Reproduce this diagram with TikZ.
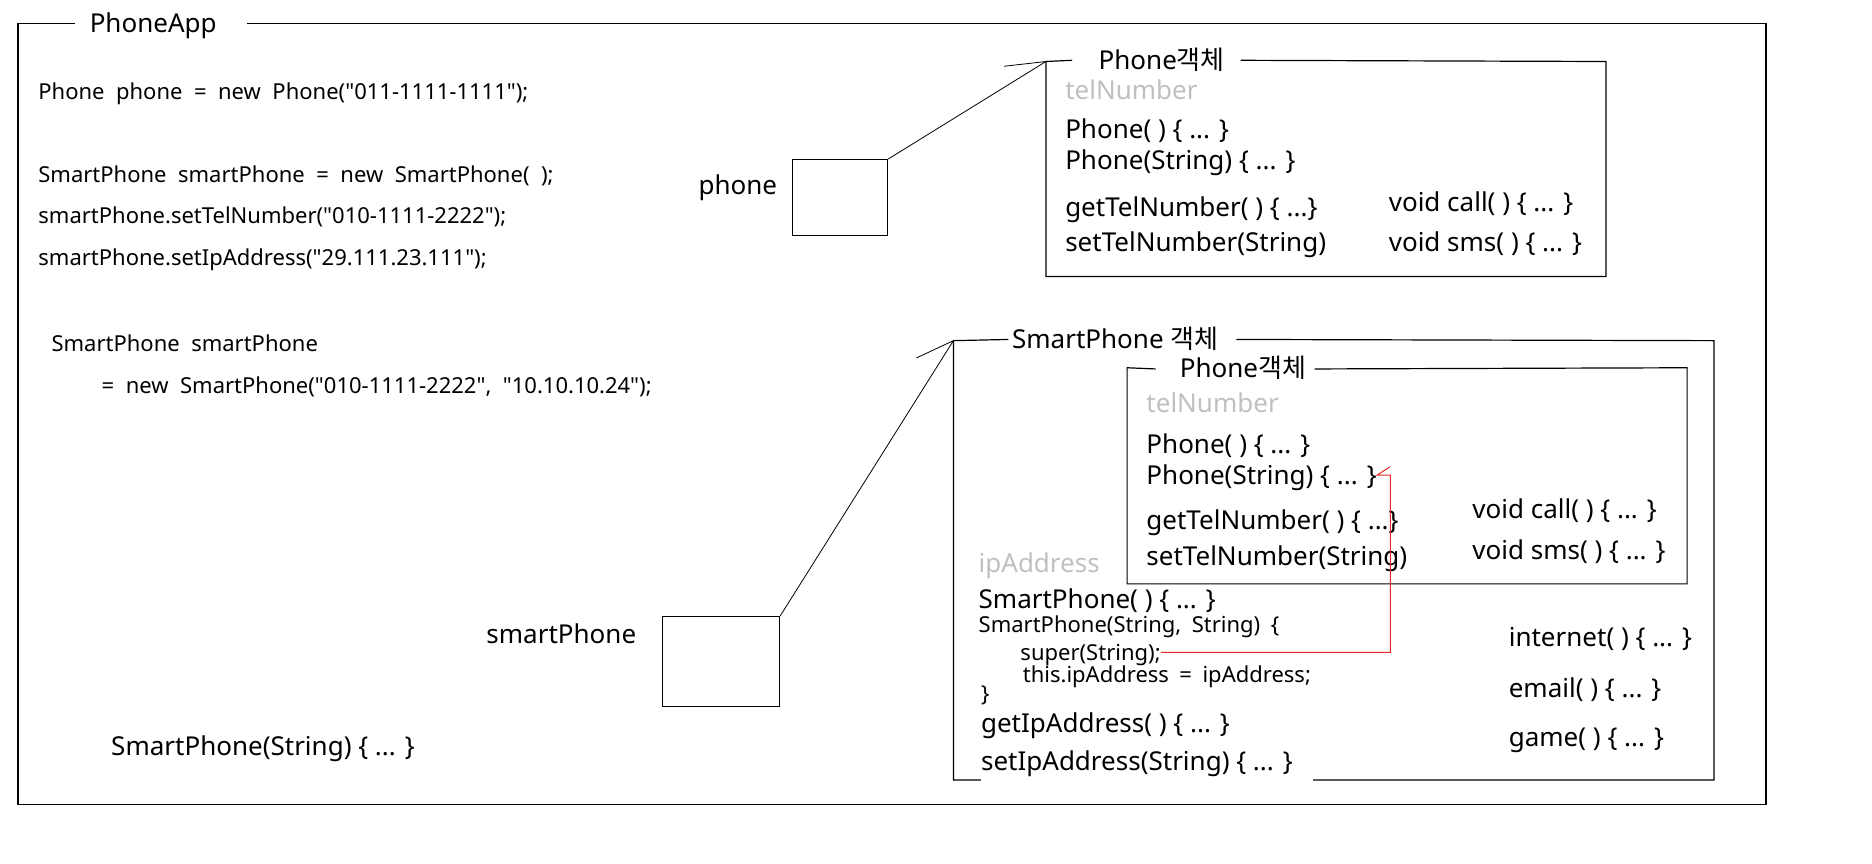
\documentclass[tikz,border=0pt]{standalone}
\usepackage{fontspec}
\setmainfont{Noto Sans}[Ligatures=TeXOff]
\newfontfamily\kfont{Noto Sans CJK KR}
\usetikzlibrary{positioning,calc}

\definecolor{fieldgray}{RGB}{192,192,192}
\definecolor{superred}{RGB}{232,40,40}

\newcommand\codefont{\fontsize{22}{26}\selectfont\spaceskip=11.5pt\relax}
\newcommand\smallfont{\fontsize{22}{26}\selectfont\spaceskip=10.5pt\relax}

\tikzset{
  txt/.style={inner sep=0pt,anchor=west,text height=20pt,text depth=2pt},
  code/.style={txt,font=\codefont,text height=17.5pt},
  small/.style={txt,font=\smallfont,text height=17.5pt},
  member/.style={txt,font=\fontsize{26}{30}\selectfont},
  field/.style={member,text=fieldgray},
  frame/.style={draw,line width=1.2pt},
  varbox/.style={draw,line width=1.2pt,anchor=north west,inner sep=0pt},
  link/.style={draw,line width=0.8pt},
  superlink/.style={draw=superred,line width=1pt}
}

\begin{document}
\begin{tikzpicture}[x=1.194pt,y=-1.194pt]
    \useasboundingbox (0pt,0pt) rectangle (1872pt,-863pt);

    % PhoneApp
    \node[member] (apptitle) at (75,20) {PhoneApp};
    \draw[frame] ([xshift=30pt]apptitle.east) -- (1479,20) -- (1479,674) -- (15,674) -- (15,20) -- ([xshift=-14.4pt]apptitle.west);

    % code
    \node[code] (newphone) at (32,77) {Phone phone = new Phone("011-1111-1111");};
    \node[code] (newsmart) at (32,146) {SmartPhone smartPhone = new SmartPhone( );};
    \node[code] (settel) at (32,181) {smartPhone.setTelNumber("010-1111-2222");};
    \node[code] (setip) at (32,216) {smartPhone.setIpAddress("29.111.23.111");};
    \node[code] (decl) at (43,288) {SmartPhone smartPhone};
    \node[code] (init) at (85,323) {= new SmartPhone("010-1111-2222", "10.10.10.24");};
    \node[member] (strctor) at (93,625) {SmartPhone(String) \{ ... \}};

    % variables
    \node[member,anchor=east] (phonelbl) at (651,155) {phone};
    \node[varbox,minimum width=95pt,minimum height=76pt] (phonebox) at (663.3,133.2) {};
    \node[member,anchor=east] (smartlbl) at (533,531) {smartPhone};
    \node[varbox,minimum width=117pt,minimum height=90pt] (smartbox) at (554.4,515.9) {};

    % Phone object
    \begin{scope}[shift={(876,51.5)}]
        \coordinate (phoneobj) at (0,0);
        \node[member] (ptitle) at (44,-1) {Phone{\kfont 객체}};
        \draw[frame] ([xshift=15.6pt]ptitle.east) -- (469,0) -- (469,180) -- (0,180) -- (phoneobj) -- ([xshift=-26.4pt]ptitle.west);
        \node[field] (ptel) at (16,24) {telNumber};
        \node[member] (pnew) at (16,57) {Phone( ) \{ ... \}};
        \node[member] (pstr) at (16,83) {Phone(String) \{ ... \}};
        \node[member] (pget) at (16,122) {getTelNumber( ) \{ ...\}};
        \node[member] (pset) at (16,152) {setTelNumber(String)};
        \node[member] (pcall) at (287,118) {void call( ) \{ ... \}};
        \node[member] (psms) at (287,152) {void sms( ) \{ ... \}};
    \end{scope}

    % SmartPhone object
    \begin{scope}[shift={(798.5,285.3)}]
        \coordinate (smartobj) at (0,0);
        \node[member] (stitle) at (49,-1) {SmartPhone {\kfont 객체}};
        \draw[frame] ([xshift=18pt]stitle.east) -- (637,0) -- (637,368) -- (0,368) -- (smartobj) -- ([xshift=-3.6pt]stitle.west);
        % inner Phone object
        \begin{scope}[shift={(145.5,22.7)}]
            \node[member] (iptitle) at (44,1) {Phone{\kfont 객체}};
            \draw[frame] ([xshift=8.4pt]iptitle.east) -- (469,0) -- (469,181) -- (0,181) -- (0,0) -- ([xshift=-24pt]iptitle.west);
            \node[field] (iptel) at (16,30) {telNumber};
            \node[member] (ipnew) at (16,64) {Phone( ) \{ ... \}};
            \node[member] (ipstr) at (16,90) {Phone(String) \{ ... \}};
            \node[member] (ipget) at (16,128) {getTelNumber( ) \{ ...\}};
            \node[member] (ipset) at (16,158) {setTelNumber(String)};
            \node[member] (ipcall) at (289,119) {void call( ) \{ ... \}};
            \node[member] (ipsms) at (289,153) {void sms( ) \{ ... \}};
        \end{scope}
        \coordinate (redcorner) at (366,112);
        \node[field] (sip) at (21,187) {ipAddress};
        \node[member] (snew) at (21,217) {SmartPhone( ) \{ ... \}};
        \node[small] (sstr) at (21,238) {SmartPhone(String, String) \{};
        \node[small] (super) at (56,261) {super(String);};
        \node[small] (sthis) at (58,280) {this.ipAddress = ipAddress;};
        \node[small] (sclose) at (23,296) {\}};
        \node[member] (sget) at (23,321) {getIpAddress( ) \{ ... \}};
        \node[member,fill=white,text height=20pt,text depth=14pt,anchor=base west] (sset) at (23,360) {setIpAddress(String) \{ ... \}\rule{20pt}{0pt}};
        \node[member] (snet) at (465,249) {internet( ) \{ ... \}};
        \node[member] (smail) at (465,291) {email( ) \{ ... \}};
        \node[member] (sgame) at (465,332) {game( ) \{ ... \}};
    \end{scope}

    % references
    \draw[link] (phonebox.north east) -- (phoneobj) -- ++(-35,4);
    \draw[link] (smartbox.north east) -- (smartobj) -- ++(-31,14.5);
    \draw[superlink] (super.east) -| (redcorner |- ipstr.east) -- (ipstr.east) -- ++(11,-7);
\end{tikzpicture}
\end{document}
